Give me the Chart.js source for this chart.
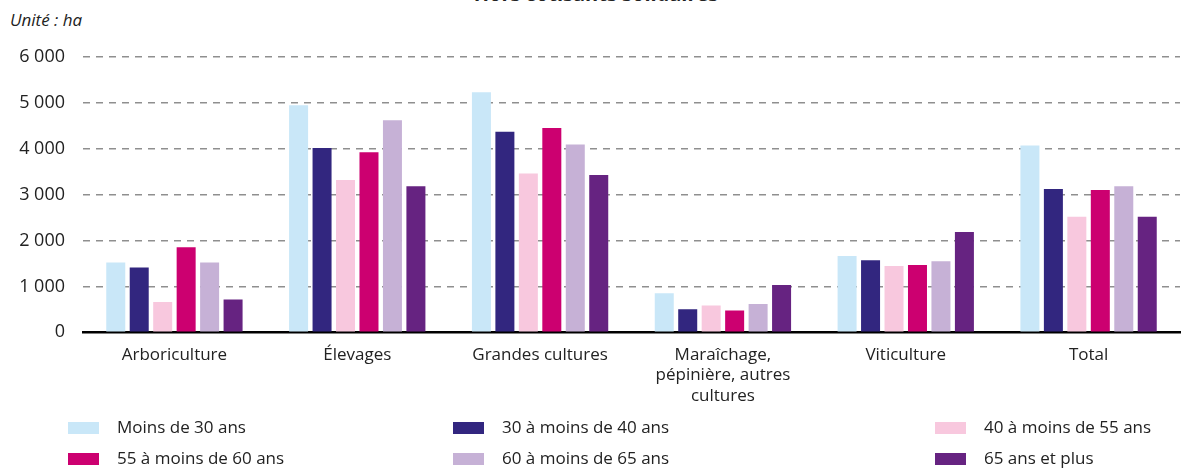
<!DOCTYPE html>
<html>
<head>
<meta charset="utf-8">
<script src="https://cdn.jsdelivr.net/npm/chart.js@4.4.1/dist/chart.umd.min.js"></script>
<style>
  body { margin: 0; background: #fff; font-family: 'Open Sans', sans-serif; color: #222; }
  #wrap { position: relative; width: 1181px; height: 468px; overflow: hidden; }
  #title { position: absolute; top: -20px; left: 0; width: 1192px; text-align: center; font-weight: bold; font-size: 20px; }
  #unit { position: absolute; top: 8px; left: 10px; font-style: italic; font-size: 17px; }
  #chartBox { position: absolute; top: 0; left: 0; width: 1181px; height: 419px; }
  .leg { position: absolute; font-size: 17px; white-space: nowrap; }
  .leg span.box { position: absolute; left: 0; top: 6px; width: 31px; height: 12px; }
  .leg span.txt { position: absolute; left: 49px; top: -1px; }
</style>
</head>
<body>
<div id="wrap">
  <div id="title">Hors cotisants solidaires</div>
  <div id="unit">Unité : ha</div>
  <div id="chartBox"><canvas id="chart"></canvas></div>
  <div id="legend"></div>
</div>
<script>
const categories = ['Arboriculture', 'Élevages', 'Grandes cultures', ['Maraîchage,', 'pépinière, autres', 'cultures'], 'Viticulture', 'Total'];
const seriesNames = ['Moins de 30 ans', '30 à moins de 40 ans', '40 à moins de 55 ans', '55 à moins de 60 ans', '60 à moins de 65 ans', '65 ans et plus'];
const colors = ['#C9E7F8', '#32267F', '#F8C8DE', '#CC0070', '#C6B1D6', '#662381'];

const moins30 = [1520, 4950, 5230, 850, 1660, 4070];
const de30a40 = [1410, 4015, 4370, 500, 1570, 3125];
const de40a55 = [660, 3320, 3460, 585, 1445, 2520];
const de55a60 = [1855, 3925, 4450, 475, 1465, 3100];
const de60a65 = [1520, 4620, 4095, 615, 1550, 3185];
const plus65 = [715, 3185, 3430, 1030, 2185, 2520];

const series = [moins30, de30a40, de40a55, de55a60, de60a65, plus65];

const fmt = v => String(v).replace(/\B(?=(\d{3})+(?!\d))/g, ' ');

// Legend in 3 columns, 2 rows
const legendPos = [[68, 416], [453, 416], [935, 416], [68, 447], [453, 447], [935, 447]];
const legend = document.getElementById('legend');
seriesNames.forEach((name, i) => {
  const d = document.createElement('div');
  d.className = 'leg';
  d.style.left = legendPos[i][0] + 'px';
  d.style.top = legendPos[i][1] + 'px';
  d.innerHTML = '<span class="box" style="background:' + colors[i] + '"></span><span class="txt">' + name + '</span>';
  legend.appendChild(d);
});

new Chart(document.getElementById('chart'), {
  type: 'bar',
  data: {
    labels: categories,
    datasets: series.map((s, i) => ({
      label: seriesNames[i],
      data: s,
      backgroundColor: colors[i],
      borderWidth: 0,
      categoryPercentage: 0.77,
      barPercentage: 0.81
    }))
  },
  options: {
    responsive: true,
    maintainAspectRatio: false,
    animation: false,
    layout: { padding: { top: 57, right: 1, left: 0, bottom: 0 } },
    plugins: {
      legend: { display: false },
      tooltip: { enabled: false }
    },
    scales: {
      x: {
        grid: { display: false, drawTicks: false },
        border: { color: '#000', width: 2.5 },
        ticks: {
          color: '#222',
          padding: 12,
          maxRotation: 0,
          autoSkip: false,
          font: { family: 'Open Sans', size: 17, lineHeight: 1.23 }
        }
      },
      y: {
        min: 0,
        max: 6000,
        afterFit: s => { s.width = 83; },
        grid: {
          color: ctx => ctx.tick.value === 0 ? 'rgba(0,0,0,0)' : '#8f8f8f',
          lineWidth: 1.5,
          drawTicks: false
        },
        border: { display: false, dash: [7, 6] },
        ticks: {
          stepSize: 1000,
          padding: 18,
          color: '#222',
          font: { family: 'Open Sans', size: 18 },
          callback: v => fmt(v)
        }
      }
    }
  }
});
</script>
</body>
</html>
